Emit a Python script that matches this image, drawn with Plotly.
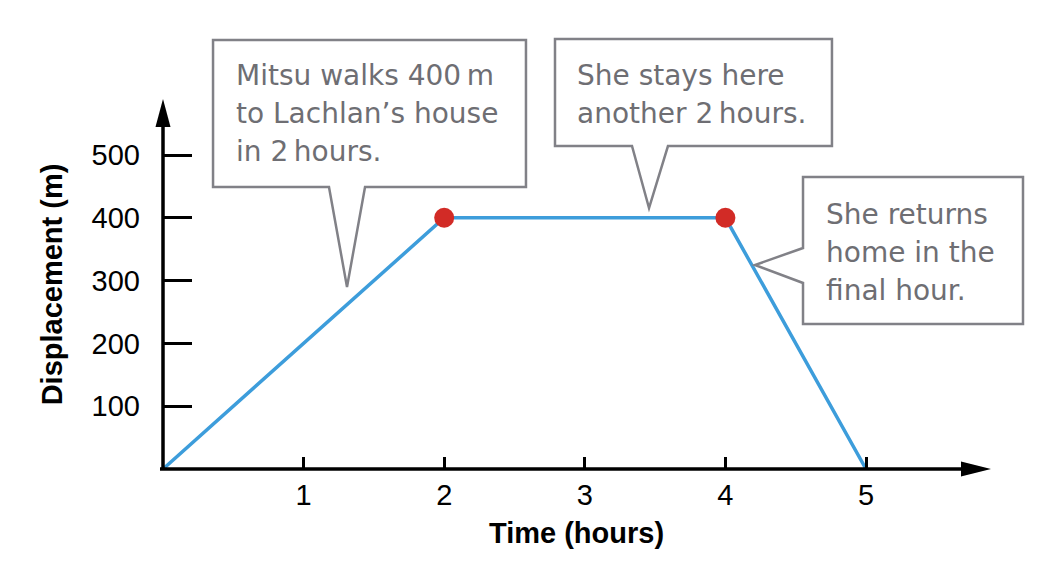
import plotly.graph_objects as go

# journey data
time_h = [0, 2, 4, 5]
displacement_m = [0, 400, 400, 0]
stop_idx = [1, 2]  # points where she arrives / leaves
x_ticks = [1, 2, 3, 4, 5]
y_ticks = [100, 200, 300, 400, 500]

callout_lines = [
    ["Mitsu walks 400\u2009m", "to Lachlan\u2019s house", "in 2\u2009hours."],
    ["She stays here", "another 2\u2009hours."],
    ["She returns", "home in the", "final hour."],
]

# page geometry (pixels of the reference picture)
OFF = 8  # the html body margin pushes the figure by this much
W, H = 1064 - OFF, 568 - OFF
L, R, T, B = 163, 990, 100, 469
SX = 140.6   # px per hour
SY = 0.628   # px per metre
xmax = (R - L) / SX
ymax = (B - T) / SY
LINE_GAP = 38


def px(x, y):
    # reference pixel -> paper fraction
    return (x - L) / (R - L), (B - y) / (B - T)


def path(points):
    s = ""
    for i, (x, y) in enumerate(points):
        u, v = px(x, y)
        s += ("M" if i == 0 else "L") + f"{u:.4f},{v:.4f} "
    return s + "Z"


box_outlines = [
    [(213, 40), (526, 40), (526, 187), (365, 187), (347, 287), (329, 187), (213, 187)],
    [(555, 39), (832, 39), (832, 146), (668, 146), (649, 208), (632, 146), (555, 146)],
    [(803, 177), (1023, 177), (1023, 324), (803, 324), (803, 283), (755, 265), (803, 248)],
]
text_pos = [(234, 57), (575, 57), (824, 195.5)]

fig = go.Figure()

fig.add_trace(go.Scatter(
    x=time_h, y=displacement_m,
    mode="lines",
    line=dict(color="#3d9ddb", width=3.5),
    cliponaxis=False,
    showlegend=False,
))
fig.add_trace(go.Scatter(
    x=[time_h[i] for i in stop_idx],
    y=[displacement_m[i] for i in stop_idx],
    mode="markers",
    marker=dict(color="#d22b26", size=20),
    cliponaxis=False,
    showlegend=False,
))

shapes = []
# axis lines
shapes.append(dict(type="line", xref="paper", yref="paper",
                   x0=px(160, 0)[0], x1=px(975, 0)[0], y0=0, y1=0,
                   line=dict(color="black", width=3.5)))
shapes.append(dict(type="line", xref="paper", yref="paper",
                   x0=0, x1=0, y0=px(0, 470)[1], y1=px(0, 115)[1],
                   line=dict(color="black", width=3.5)))
# arrow heads
shapes.append(dict(type="path", xref="paper", yref="paper",
                   path=path([(163, 99), (155.5, 127), (170.5, 127)]),
                   fillcolor="black", line=dict(width=0)))
shapes.append(dict(type="path", xref="paper", yref="paper",
                   path=path([(991, 469), (961, 461.5), (961, 476.5)]),
                   fillcolor="black", line=dict(width=0)))
# callout boxes
for pts in box_outlines:
    shapes.append(dict(type="path", xref="paper", yref="paper", path=path(pts),
                       fillcolor="white", line=dict(color="#818187", width=2.5),
                       layer="above"))

annotations = []
for lines, (x, y) in zip(callout_lines, text_pos):
    for i, txt in enumerate(lines):
        u, v = px(x, y + i * LINE_GAP)
        annotations.append(dict(
            x=u, y=v, xref="paper", yref="paper", text=txt, showarrow=False,
            xanchor="left", yanchor="top", align="left",
            font=dict(family="DejaVu Sans", size=28, color="#6e6e73"),
        ))

fig.update_layout(
    width=W, height=H,
    margin=dict(l=L - OFF, r=W - (R - OFF), t=T - OFF, b=H - (B - OFF), pad=0),
    plot_bgcolor="white", paper_bgcolor="white",
    shapes=shapes, annotations=annotations,
    font=dict(family="Liberation Sans", color="black"),
    xaxis=dict(
        range=[0, xmax], tickvals=x_ticks, ticks="inside", ticklen=12,
        tickwidth=2.5, tickcolor="black", showgrid=False, zeroline=False,
        showline=False, tickfont=dict(size=29), ticklabelstandoff=6,
        title=dict(text="<b>Time (hours)</b>", font=dict(size=29), standoff=12),
    ),
    yaxis=dict(
        range=[0, ymax], tickvals=y_ticks, ticks="inside", ticklen=29,
        tickwidth=2.5, tickcolor="black", showgrid=False, zeroline=False,
        showline=False, tickfont=dict(size=29), ticklabelstandoff=22,
        title=dict(text="<b>Displacement (m)</b>", font=dict(size=29), standoff=20),
    ),
)

fig.write_html("out.html")
